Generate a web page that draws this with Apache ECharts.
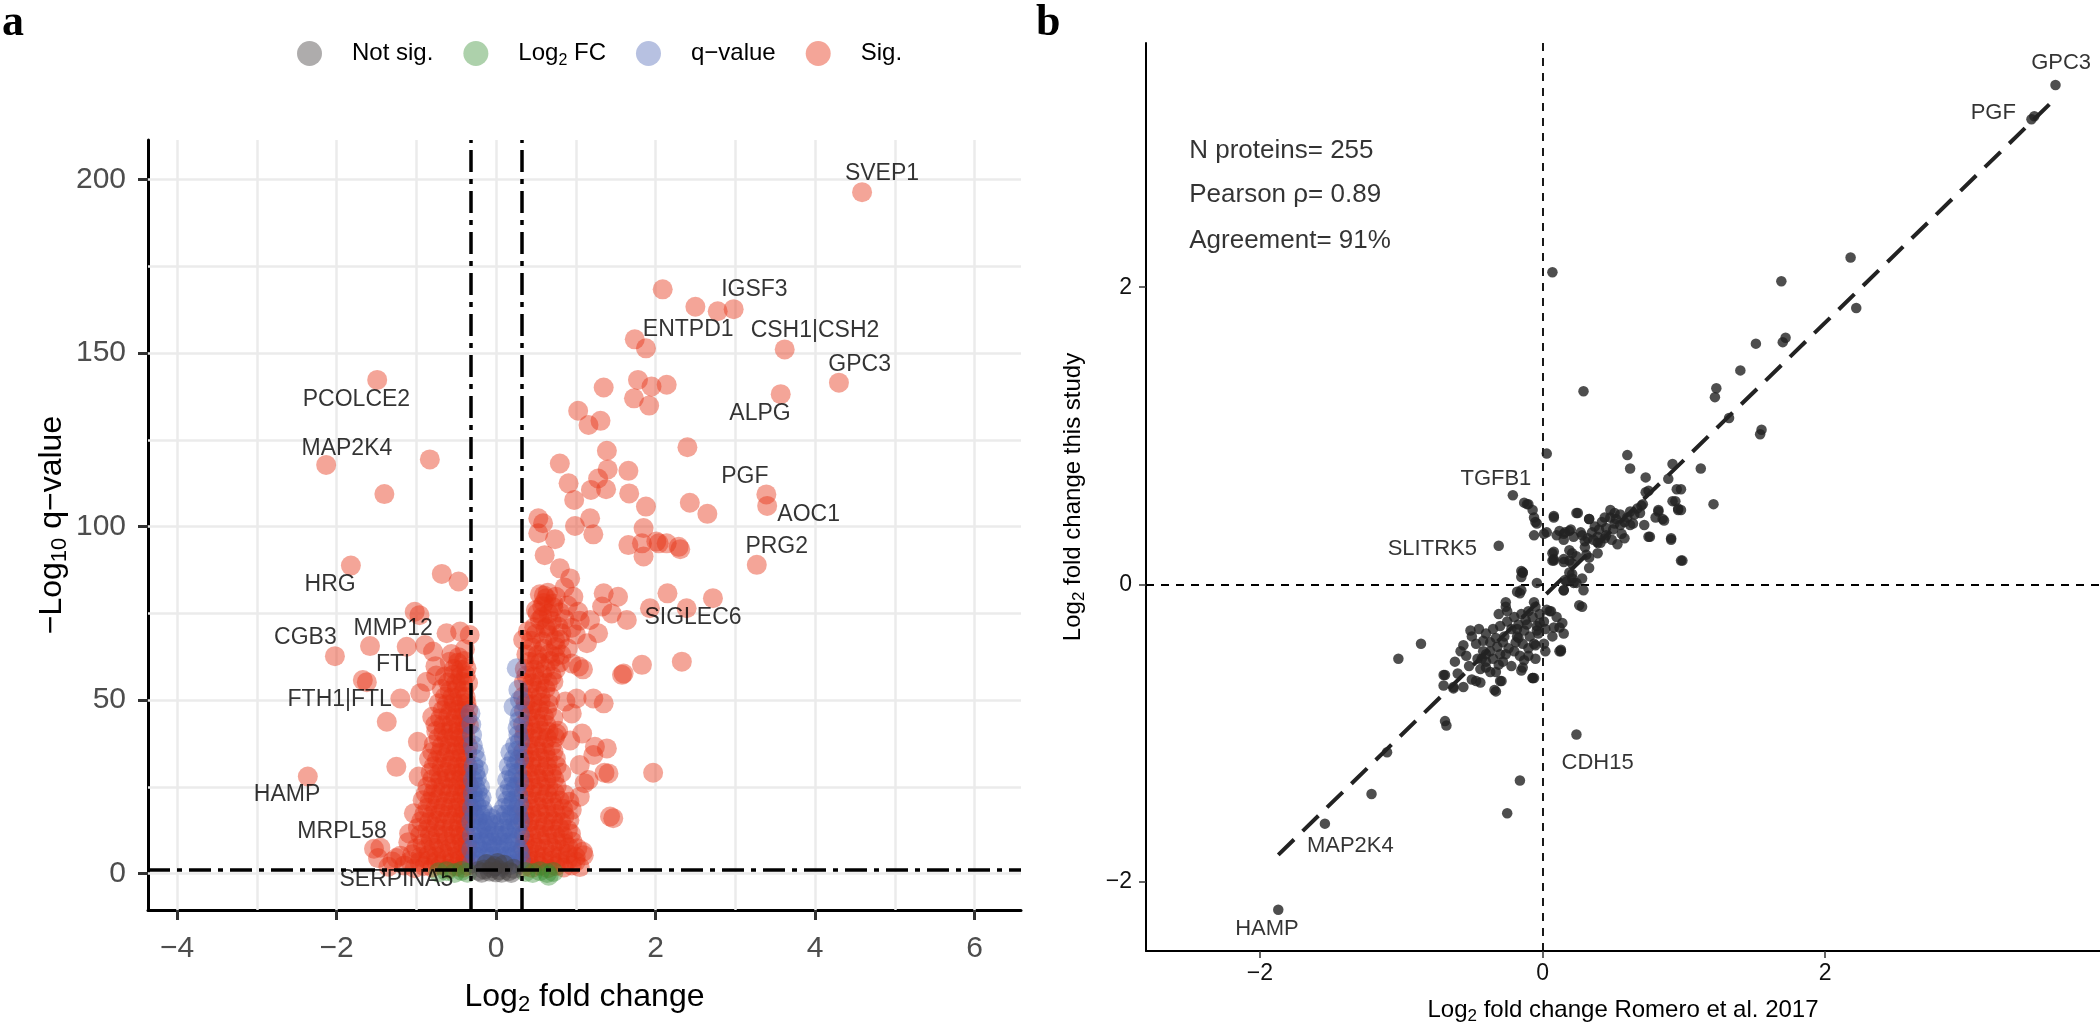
<!DOCTYPE html>
<html><head><meta charset="utf-8">
<script src="https://cdn.jsdelivr.net/npm/echarts@6/dist/echarts.min.js"></script>
<style>html,body{margin:0;padding:0;background:#fff}#c{width:2100px;height:1030px}</style>
</head><body><div id="c"></div>
<script>
// ---------- Panel a : volcano ----------
const volcanoXTicks = [-4, -2, 0, 2, 4, 6];
const volcanoYTicks = [0, 50, 100, 150, 200];
const volcanoXGrid = [-4, -3, -2, -1, 0, 1, 2, 3, 4, 5, 6];
const volcanoYGrid = [0, 25, 50, 75, 100, 125, 150, 175, 200];
const fcCutoffs = [-0.32, 0.32];
const qCutoff = 1;
const legendNames = ['Not sig.', 'Log2 FC', 'q\u2212value', 'Sig.'];

const notSig = [[-0.22,0.8],[-0.15,1.2],[-0.08,0.6],[-0.02,2.2],[0.04,1.0],[0.1,2.6],[0.16,0.7],[0.22,1.4],[-0.12,2.8],[0.0,0.4],[0.07,0.3],[-0.18,0.3],[0.19,0.2],[0.02,3.1],[-0.05,1.6]];
const log2fc = [[-0.72,0.4],[-0.62,0.7],[-0.52,0.2],[-0.43,0.8],[-0.36,0.3],[0.37,0.5],[0.46,0.2],[0.55,0.7],[0.64,0.2],[0.72,0.5],[0.66,-0.6]];
const qvalue = [
[-0.30,3],[-0.22,3.5],[-0.14,2.5],[-0.06,3],[-0.31,7],[-0.23,7.5],[-0.15,6.5],[-0.07,7],
[-0.30,11],[-0.22,11.5],[-0.15,10.5],[-0.31,15],[-0.23,15.5],[-0.16,14.5],[-0.30,19],[-0.24,19.5],[-0.17,18.5],
[-0.29,23],[-0.23,23.5],[-0.18,22],[-0.29,27],[-0.24,27.5],[-0.28,31],[-0.22,30],[-0.27,35],[-0.30,40],[-0.32,46.2],
[-0.09,11],[-0.10,15],[-0.04,5],[0.00,8],[-0.02,12],
[0.02,3],[0.10,3.5],[0.18,2.5],[0.26,3],[0.31,4],[0.04,7],[0.12,7.5],[0.20,6.5],[0.28,7],
[0.06,11],[0.14,11.5],[0.22,10.5],[0.30,11],[0.08,15],[0.16,15.5],[0.24,14.5],[0.30,15],
[0.10,19],[0.18,19.5],[0.26,18.5],[0.12,23],[0.20,23.5],[0.28,22.5],[0.14,27],[0.22,27.5],[0.29,26.5],
[0.16,31],[0.25,31.5],[0.18,35],[0.27,35.5],[0.28,40],[0.29,44],[0.22,48.1],[0.30,50],[0.26,59.2],
[-0.26,5],[-0.18,5],[-0.10,5],[-0.26,9],[-0.18,9],[-0.11,9],[-0.26,13],[-0.19,13],[-0.12,13],[-0.27,17],
[-0.20,17],[-0.13,17],[-0.27,21],[-0.20,21],[-0.26,25],[-0.20,25],[-0.26,29],[-0.25,33],[-0.29,37],[-0.31,43],
[-0.05,9],[-0.02,14],[0.02,11],[0.03,17],[-0.06,16],[0.06,5],[-0.02,2],
[0.06,2],[0.14,5],[0.22,5],[0.30,6],[0.08,9],[0.16,9],[0.24,9],[0.10,13],[0.18,13],[0.26,13],[0.12,17],
[0.20,17],[0.28,17],[0.14,21],[0.22,21],[0.29,20],[0.17,25],[0.25,25],[0.19,29],[0.27,29],[0.22,33],
[0.29,33],[0.24,37],[0.30,38],[0.27,42],[0.30,46],[0.28,53]
];
const sig = [
// upper right
[4.59,196.4],[2.09,168.4],[2.50,163.4],[2.78,162.1],[2.98,162.7],[1.74,154.0],[1.88,151.4],[3.62,151.1],[4.30,141.5],[3.57,138.2],
[1.35,140.1],[1.78,142.3],[1.95,140.4],[2.14,140.9],[1.73,137.0],[1.92,134.9],[1.03,133.4],[1.16,129.3],[1.31,130.5],[2.40,122.9],
[1.39,121.9],[1.66,116.1],[1.40,116.5],[1.28,113.9],[0.91,112.5],[1.19,110.6],[1.38,110.8],[0.80,118.2],[0.98,107.7],[1.67,109.6],
[1.88,105.8],[2.43,106.9],[2.65,103.7],[3.39,109.3],[3.40,106.0],[0.99,100.2],[1.22,97.8],[1.18,102.4],[1.85,99.6],[1.66,94.7],
[1.83,95.2],[2.04,95.2],[2.29,94.2],[3.27,89.0],[0.74,96.4],[0.59,101.0],[0.61,91.8],[0.53,102.4],[0.53,98.1],[2.01,95.7],
[2.14,95.2],[2.31,93.5],[1.85,91.4],[0.80,88.0],[0.93,85.1],[0.86,82.5],[0.97,79.8],[0.63,79.4],[0.72,77.9],[1.03,75.5],
[1.18,73.1],[1.28,69.3],[1.14,66.4],[1.35,80.8],[1.53,79.8],[1.33,77.0],[1.45,75.0],[1.64,73.1],[2.15,80.8],[2.72,79.4],
[2.39,76.5],[1.93,76.5],[2.33,61.1],[1.83,60.2],[1.58,57.3],[1.09,58.9],[0.72,55.3],[1.01,50.5],[1.22,50.5],[1.35,49.1],
[1.39,36.1],[1.22,34.2],[1.05,31.3],[1.41,28.9],[1.16,27.0],[1.97,29.1],[1.05,22.2],[1.47,16.0],[1.09,6.3],[0.76,40.4],[0.93,38.4],
[0.34,67.4],[0.40,69.9],[0.64,71.3],[0.80,67.4],[0.95,60.6],[0.51,61.7],[0.74,62.6],[1.04,59.7],[1.60,57.7],[0.87,49.6],
[0.95,46.2],[1.08,40.4],[1.24,36.6],[1.11,26.1],[0.95,18.4],[1.43,16.5],[1.36,29.1],[0.55,80.5],[0.60,78.0],[0.65,81.0],[0.50,76.0],[0.58,74.0],
// upper left
[-1.49,142.3],[-2.13,117.8],[-0.83,119.4],[-1.40,109.4],[-1.82,88.8],[-0.68,86.4],[-0.47,84.2],[-1.02,75.5],[-0.96,74.5],
[-2.02,62.7],[-1.58,65.6],[-1.67,55.8],[-1.62,55.2],[-1.20,50.5],[-1.37,43.8],[-0.98,38.0],[-1.25,30.8],[-0.97,28.0],[-2.36,28.0],
[-1.03,17.4],[-1.09,11.6],[-1.53,7.2],[-1.45,7.5],[-1.48,4.5],[-1.25,4.5],[-1.30,3.5],
[-1.12,65.4],[-0.89,65.9],[-0.79,64.0],[-0.62,69.3],[-0.45,69.8],[-0.33,68.8],[-0.56,63.3],[-0.39,64.7],[-0.47,62.4],
[-0.95,52.0],[-0.87,55.3],[-0.76,59.8],
// left dense mass
[-1.35,2],[-1.15,2.4],[-1.02,1.6],[-0.90,2.2],[-0.80,1.8],[-0.70,2.5],[-0.60,1.5],[-0.50,2.1],[-0.42,1.7],[-0.36,2.3],
[-1.20,5.2],[-1.05,5.6],[-0.95,4.8],[-0.85,5.4],[-0.75,5.0],[-0.65,5.7],[-0.55,4.9],[-0.46,5.3],[-0.38,5.1],
[-1.10,9.1],[-0.92,8.7],[-0.82,9.4],[-0.72,8.9],[-0.62,9.3],[-0.52,8.8],[-0.43,9.2],[-0.36,9.0],
[-0.98,13.2],[-0.86,12.8],[-0.76,13.4],[-0.66,12.9],[-0.56,13.1],[-0.47,12.7],[-0.39,13.3],
[-0.90,17.1],[-0.80,16.8],[-0.70,17.4],[-0.60,16.9],[-0.50,17.2],[-0.42,16.7],[-0.35,17.3],
[-0.92,21.2],[-0.83,20.8],[-0.73,21.4],[-0.63,20.9],[-0.54,21.1],[-0.45,20.7],[-0.37,21.3],
[-0.86,25.1],[-0.76,24.8],[-0.66,25.3],[-0.57,24.9],[-0.48,25.2],[-0.40,24.7],[-0.34,25.4],
[-0.82,29.2],[-0.72,28.7],[-0.62,29.3],[-0.53,28.9],[-0.44,29.1],[-0.37,28.8],
[-0.84,33.1],[-0.74,32.8],[-0.64,33.4],[-0.55,32.9],[-0.46,33.2],[-0.38,32.7],
[-0.78,37.2],[-0.68,36.8],[-0.58,37.3],[-0.49,36.9],[-0.41,37.1],[-0.35,36.7],
[-0.75,41.1],[-0.66,40.8],[-0.57,41.3],[-0.48,40.9],[-0.40,41.2],
[-0.80,45.2],[-0.70,44.8],[-0.60,45.3],[-0.51,44.9],[-0.43,45.1],[-0.36,44.7],
[-0.72,49.1],[-0.62,48.8],[-0.53,49.3],[-0.44,48.9],[-0.37,49.2],
[-0.68,53.2],[-0.58,52.8],[-0.49,53.3],[-0.40,52.9],
[-0.75,57.1],[-0.64,56.8],[-0.54,57.3],[-0.45,56.9],[-0.38,57.2],
[-0.58,61.1],[-0.48,60.8],[-0.40,61.3],
[-1.08,3.6],[-0.96,3.4],[-0.85,3.8],[-0.75,3.5],[-0.65,3.7],[-0.55,3.3],[-0.46,3.9],[-0.39,3.5],[-0.34,3.7],
[-1.00,7.3],[-0.88,7.1],[-0.78,7.5],[-0.68,7.2],[-0.58,7.4],[-0.49,7.0],[-0.41,7.6],[-0.35,7.3],
[-0.95,11.2],[-0.83,11.0],[-0.73,11.4],[-0.63,11.1],[-0.53,11.3],[-0.45,10.9],[-0.38,11.5],
[-0.94,15.1],[-0.84,14.9],[-0.74,15.3],[-0.64,15.0],[-0.55,15.2],[-0.46,14.8],[-0.38,15.4],
[-0.86,19.0],[-0.76,18.8],[-0.66,19.2],[-0.57,18.9],[-0.48,19.1],[-0.40,18.7],[-0.34,19.3],
[-0.88,23.1],[-0.79,22.9],[-0.69,23.3],[-0.59,23.0],[-0.50,23.2],[-0.42,22.8],[-0.36,23.4],
[-0.80,27.2],[-0.70,27.0],[-0.61,27.4],[-0.52,27.1],[-0.44,27.3],[-0.37,26.9],
[-0.78,31.0],[-0.68,30.8],[-0.58,31.2],[-0.49,30.9],[-0.41,31.1],[-0.35,30.7],
[-0.80,35.1],[-0.70,34.9],[-0.60,35.3],[-0.51,35.0],[-0.43,35.2],[-0.36,34.8],
[-0.72,39.2],[-0.62,39.0],[-0.53,39.4],[-0.45,39.1],[-0.38,39.3],
[-0.76,43.0],[-0.66,42.8],[-0.56,43.2],[-0.47,42.9],[-0.39,43.1],[-0.34,42.7],
[-0.67,47.1],[-0.57,46.9],[-0.48,47.3],[-0.40,47.0],[-0.35,47.2],
[-0.64,51.0],[-0.55,50.8],[-0.46,51.2],[-0.38,50.9],
[-0.60,55.1],[-0.50,54.9],[-0.42,55.3],[-0.35,55.0],
[-0.53,59.0],[-0.44,58.8],[-0.37,59.2],
// right dense mass
[0.36,2.1],[0.45,1.7],[0.55,2.3],[0.65,1.6],[0.75,2.2],[0.85,1.8],[0.95,2.4],[1.05,1.9],
[0.40,5.2],[0.50,5.6],[0.60,4.8],[0.70,5.4],[0.80,5.0],[0.90,5.7],[1.00,4.9],[1.10,5.3],
[0.36,9.1],[0.46,8.7],[0.56,9.4],[0.66,8.9],[0.76,9.3],[0.86,8.8],[0.96,9.2],
[0.40,13.2],[0.50,12.8],[0.60,13.4],[0.70,12.9],[0.80,13.1],[0.90,12.7],
[0.36,17.1],[0.45,16.8],[0.55,17.4],[0.65,16.9],[0.75,17.2],[0.86,16.7],
[0.40,21.2],[0.50,20.8],[0.60,21.4],[0.70,20.9],[0.80,21.1],[0.92,20.7],
[0.36,25.1],[0.46,24.8],[0.56,25.3],[0.66,24.9],[0.76,25.2],
[0.40,29.2],[0.50,28.7],[0.60,29.3],[0.70,28.9],[0.82,29.1],
[0.36,33.1],[0.45,32.8],[0.55,33.4],[0.65,32.9],[0.75,33.2],
[0.40,37.2],[0.50,36.8],[0.60,37.3],[0.70,36.9],
[0.36,41.1],[0.46,40.8],[0.56,41.3],[0.66,40.9],[0.78,41.2],
[0.40,45.2],[0.50,44.8],[0.60,45.3],[0.72,44.9],
[0.37,49.1],[0.46,48.8],[0.56,49.3],[0.66,48.9],
[0.42,53.2],[0.52,52.8],[0.62,53.3],
[0.38,57.1],[0.48,56.8],[0.58,57.3],[0.70,56.9],
[0.42,61.1],[0.55,60.8],[0.68,61.3],[0.80,60.9],
[0.45,65.2],[0.60,64.8],[0.75,65.3],[0.90,64.9],
[0.50,69.1],[0.66,68.8],[0.82,69.3],[1.00,68.9],
[0.55,73.2],[0.70,72.8],[0.86,73.3],[1.05,72.9],
[0.58,77.1],[0.72,76.8],[0.90,77.3],[0.60,80.2],[0.75,79.8],
[0.34,3.6],[0.41,3.4],[0.50,3.8],[0.60,3.5],[0.70,3.7],[0.80,3.3],[0.90,3.9],[1.00,3.5],
[0.34,7.3],[0.42,7.1],[0.51,7.5],[0.61,7.2],[0.71,7.4],[0.81,7.0],[0.91,7.6],[1.02,7.3],
[0.35,11.2],[0.44,11.0],[0.54,11.4],[0.64,11.1],[0.74,11.3],[0.84,10.9],[0.94,11.5],
[0.34,15.1],[0.42,14.9],[0.52,15.3],[0.62,15.0],[0.72,15.2],[0.82,14.8],[0.92,15.4],
[0.34,19.0],[0.43,18.8],[0.53,19.2],[0.63,18.9],[0.73,19.1],[0.84,18.7],
[0.35,23.1],[0.44,22.9],[0.54,23.3],[0.64,23.0],[0.74,23.2],[0.86,22.8],
[0.34,27.2],[0.43,27.0],[0.53,27.4],[0.63,27.1],[0.73,27.3],
[0.35,31.0],[0.44,30.8],[0.54,31.2],[0.64,30.9],[0.76,31.1],
[0.34,35.1],[0.42,34.9],[0.52,35.3],[0.62,35.0],[0.72,35.2],
[0.35,39.2],[0.44,39.0],[0.54,39.4],[0.64,39.1],[0.74,39.3],
[0.34,43.0],[0.43,42.8],[0.53,43.2],[0.63,42.9],
[0.35,47.1],[0.44,46.9],[0.54,47.3],[0.64,47.0],
[0.34,51.0],[0.45,50.8],[0.56,51.2],[0.68,50.9],
[0.35,55.1],[0.45,54.9],[0.55,55.3],[0.65,55.0],
[0.36,59.0],[0.48,58.8],[0.62,59.2],[0.75,58.9],
[0.38,63.2],[0.52,63.0],[0.67,63.4],[0.82,63.1],
[0.44,67.1],[0.58,66.9],[0.74,67.3],
[0.48,71.0],[0.62,70.8],[0.78,71.2],[0.95,70.9],
[0.52,75.1],[0.66,74.9],[0.80,75.3]
];
const volcanoLabels = [
[4.84,201.8,'SVEP1'],[3.24,168.2,'IGSF3'],[2.41,156.7,'ENTPD1'],[4.00,156.4,'CSH1|CSH2'],[4.56,146.6,'GPC3'],
[3.31,132.7,'ALPG'],[3.12,114.4,'PGF'],[3.92,103.4,'AOC1'],[3.52,94.2,'PRG2'],[2.47,73.9,'SIGLEC6'],
[-1.75,136.7,'PCOLCE2'],[-1.87,122.6,'MAP2K4'],[-2.08,83.2,'HRG'],[-2.39,68.0,'CGB3'],[-1.29,70.7,'MMP12'],
[-1.25,60.1,'FTL'],[-1.96,50.1,'FTH1|FTL'],[-2.62,22.7,'HAMP'],[-1.93,12.1,'MRPL58'],[-1.25,-1.8,'SERPINA5']
];

// ---------- Panel b : comparison ----------
const cmpTicks = [-2, 0, 2];
const cmpRefLines = [0];
const cmpPoints = [
[3.63,3.36],[3.48,3.15],[3.46,3.13],
[2.18,2.20],[1.69,2.04],[0.07,2.10],[2.22,1.86],[1.72,1.66],[1.70,1.63],[1.51,1.62],[1.40,1.44],[1.23,1.32],[1.22,1.26],[0.29,1.30],[1.32,1.12],[1.55,1.04],[1.54,1.01],
[0.03,0.88],[0.60,0.87],[0.62,0.78],[0.92,0.81],[0.89,0.71],[1.12,0.78],[0.73,0.72],[0.95,0.64],[0.92,0.56],[0.75,0.63],[1.21,0.54],[0.96,0.50],[0.82,0.50],
[0.99,0.16],[0.91,0.30],[0.98,0.50],[0.94,0.56],[0.98,0.64],[0.86,0.43],[0.82,0.49],[0.76,0.32],[0.73,0.62],
[-0.21,0.60],[-0.13,0.55],[-0.10,0.54],[-0.07,0.50],[-0.05,0.42],[0.08,0.46],[0.24,0.48],[0.03,0.35],[0.12,0.36],[0.19,0.36],
[0.33,0.44],[0.44,0.45],[0.51,0.48],[0.62,0.49],[0.69,0.48],[0.71,0.54],[0.80,0.45],[0.85,0.44],[0.96,0.51],[0.91,0.31],
[0.75,0.32],[0.98,0.16],[0.58,0.31],[0.49,0.30],[0.39,0.28],[0.30,0.29],[0.21,0.21],[0.19,0.16],[0.08,0.22],[0.08,0.16],[0.33,0.11],[0.28,0.04],[0.21,0.04],
[-0.31,0.26],
[0.70,0.53],[0.67,0.51],[0.65,0.47],[0.72,0.40],[0.64,0.41],[0.56,0.34],[0.51,0.41],[0.48,0.45],[0.52,0.44],[0.58,0.42],
[0.53,0.27],[0.41,0.28],[0.44,0.31],[0.39,0.32],[0.37,0.39],[0.33,0.44],[0.25,0.48],[0.20,0.37],[0.15,0.34],[0.10,0.33],
[0.16,0.35],[0.27,0.35],[0.32,0.31],[0.39,0.21],[0.33,0.18],[0.31,0.20],[0.24,0.19],[0.19,0.23],[0.21,0.14],[0.15,0.17],
[0.07,0.21],[0.08,0.17],[0.19,0.08],[0.16,0.03],[0.22,0.01],[0.15,-0.04],[0.29,-0.04],[0.26,-0.14],[-0.04,0.01],[0.01,0.34],
[-0.06,0.33],[-0.06,0.45],[-0.11,0.54],[-0.04,0.41],[0.08,0.45],[-0.14,0.08],
[-0.16,-0.06],[-0.06,-0.12],[0.05,-0.18],[0.13,-0.44],[-0.07,-0.63],[0.01,-0.40],
[0.24,-1.01],[-0.16,-1.32],[-0.25,-1.54],[-1.21,-1.41],[-1.10,-1.13],[-0.69,-0.92],[-0.68,-0.95],[-0.86,-0.40],[-1.02,-0.50],
[-1.54,-1.61],[-1.87,-2.19],
[-0.70,-0.61],[-0.70,-0.68],[-0.63,-0.70],[-0.56,-0.69],[-0.34,-0.71],[-0.29,-0.65],[-0.44,-0.66],[-0.50,-0.64],[-0.44,-0.57],[-0.37,-0.59],
[-0.31,-0.54],[-0.14,-0.56],[-0.07,-0.63],[-0.10,-0.48],[-0.16,-0.48],[-0.05,-0.41],[-0.11,-0.27],[-0.18,-0.05],[-0.14,0.08],[-0.26,-0.15],
[-0.25,-0.18],[-0.31,-0.20],[-0.51,-0.31],[-0.56,-0.41],[-0.54,-0.48],[-0.42,-0.45],[-0.37,-0.39],[-0.28,-0.39],[-0.18,-0.35],[-0.13,-0.31],
[-0.04,-0.28],[0.01,-0.25],[0.06,-0.18],[0.08,-0.29],[0.14,-0.26],[0.15,-0.33],[0.13,-0.45],[0.07,-0.35],[0.15,-0.04],[0.17,0.02],
[0.24,0.01],[0.07,0.16],[0.15,0.15],
[-0.69,-0.61],[-0.63,-0.69],[-0.47,-0.65],[-0.33,-0.72],[-0.30,-0.65],[-0.33,-0.59],[-0.40,-0.56],[-0.43,-0.50],[-0.40,-0.47],[-0.26,-0.47],
[-0.15,-0.58],[-0.13,-0.51],[-0.06,-0.63],[-0.10,-0.43],[-0.19,-0.39],[-0.17,-0.36],[-0.06,-0.40],[-0.04,-0.31],[-0.02,-0.26],[0.03,-0.17],
[0.10,-0.22],[0.12,-0.29],[0.12,-0.45],[-0.26,-0.12],[-0.15,-0.04],[-0.15,0.09],[-0.15,0.05],[0.21,0.07],[0.28,-0.15],
[-0.50,-0.35],[-0.45,-0.30],[-0.40,-0.33],[-0.35,-0.30],[-0.30,-0.28],[-0.25,-0.25],[-0.20,-0.22],[-0.15,-0.20],[-0.10,-0.18],[-0.05,-0.15],
[-0.47,-0.40],[-0.42,-0.38],[-0.37,-0.45],[-0.32,-0.42],[-0.27,-0.35],[-0.22,-0.30],[-0.17,-0.27],[-0.12,-0.24],[-0.07,-0.22],[-0.02,-0.20],
[-0.46,-0.50],[-0.40,-0.52],[-0.35,-0.50],[-0.30,-0.47],[-0.24,-0.43],[-0.20,-0.45],[-0.14,-0.40],[-0.09,-0.35],[-0.03,-0.33],[0.02,-0.30],
[-0.52,-0.55],[-0.58,-0.45],[-0.62,-0.52],[-0.60,-0.60],[-0.28,-0.52],[-0.22,-0.55],[-0.05,-0.50],[0.02,-0.45],[-0.33,-0.36],[-0.18,-0.30],
[0.15,0.30],[0.22,0.32],[0.28,0.33],[0.35,0.35],[0.40,0.37],[0.45,0.38],[0.50,0.37],[0.55,0.40],[0.60,0.45],[0.62,0.40],
[0.45,0.33],[0.36,0.30],[0.30,0.25],[0.42,0.42],[0.55,0.47],[0.48,0.50]
];
const cmpFit = [[-1.87,-1.82],[3.63,3.27]];
const cmpLabels = [[3.67,3.51,'GPC3'],[3.19,3.17,'PGF'],[-0.33,0.71,'TGFB1'],[-0.78,0.24,'SLITRK5'],[0.39,-1.20,'CDH15'],[-1.36,-1.76,'MAP2K4'],[-1.95,-2.32,'HAMP']];
const statsText = [[-2.50,2.92,'N proteins= 255'],[-2.50,2.62,'Pearson \u03c1= 0.89'],[-2.50,2.31,'Agreement= 91%']];

// ---------- chart ----------
const FONT = '"Liberation Sans", Arial, Helvetica, sans-serif';
const chart = echarts.init(document.getElementById('c'), null, {renderer: 'canvas'});
const subRich = (size, subSize, color) => ({
  t: {fontSize: size, lineHeight: size + 6, color: color, fontFamily: FONT},
  s: {fontSize: subSize, lineHeight: subSize, verticalAlign: 'bottom', color: color, fontFamily: FONT}
});
const gridLineData = volcanoXGrid.map(v => ({xAxis: v})).concat(volcanoYGrid.map(v => ({yAxis: v})));
const threshData = fcCutoffs.map(v => ({xAxis: v})).concat([{yAxis: qCutoff}]);
const refData = cmpRefLines.map(v => ({xAxis: v})).concat(cmpRefLines.map(v => ({yAxis: v})));
const labelSeries = (data, xi, size, align) => ({
  type: 'scatter', xAxisIndex: xi, yAxisIndex: xi, data: data, symbolSize: 1, z: 8, silent: true,
  itemStyle: {color: 'rgba(0,0,0,0)'},
  label: {show: true, position: 'inside', align: align || 'center', formatter: p => p.data[2], fontSize: size, color: '#000', fontFamily: FONT}
});

const option = {
  animation: false,
  backgroundColor: '#fff',
  textStyle: {fontFamily: FONT},
  graphic: [
    {type: 'text', left: 2, top: 2, style: {text: 'a', font: 'bold 44px "Liberation Serif", "DejaVu Serif", serif', fill: '#000'}},
    {type: 'text', left: 1036, top: 2, style: {text: 'b', font: 'bold 44px "Liberation Serif", "DejaVu Serif", serif', fill: '#000'}}
  ],
  legend: {
    data: legendNames, left: 292, top: 36, itemWidth: 25, itemHeight: 25, itemGap: 30, icon: 'circle',
    textStyle: {fontSize: 24, color: '#000', padding: [0, 0, 0, 25], rich: subRich(24, 16, '#000')},
    formatter: n => n === 'Log2 FC' ? '{t|Log}{s|2}{t| FC}' : n
  },
  grid: [
    {left: 148, top: 140, width: 873, height: 770},
    {left: 1146, top: 43, width: 954, height: 914}
  ],
  xAxis: [
    {type: 'value', gridIndex: 0, min: -4.364, max: 6.583,
     axisLine: {show: true, onZero: false, lineStyle: {color: '#000', width: 3}},
     axisTick: {show: true, length: 10, customValues: volcanoXTicks, lineStyle: {color: '#333', width: 3}},
     axisLabel: {customValues: volcanoXTicks, fontSize: 30, color: '#4d4d4d', margin: 24, formatter: v => String(v).replace('-', '\u2212')},
     splitLine: {show: false},
     name: '{t|Log}{s|2}{t| fold change}', nameLocation: 'middle', nameGap: 68,
     nameTextStyle: {rich: subRich(32, 22, '#000')}},
    {type: 'value', gridIndex: 1, min: -2.806, max: 3.945,
     axisLine: {show: true, onZero: false, lineStyle: {color: '#000', width: 2}},
     axisTick: {show: true, length: 7, customValues: cmpTicks, lineStyle: {color: '#333', width: 1.5}},
     axisLabel: {customValues: cmpTicks, fontSize: 23, color: '#111', margin: 11, formatter: v => String(v).replace('-', '\u2212')},
     splitLine: {show: false},
     name: '{t|Log}{s|2}{t| fold change Romero et al. 2017}', nameLocation: 'middle', nameGap: 44,
     nameTextStyle: {rich: subRich(24, 17, '#000')}}
  ],
  yAxis: [
    {type: 'value', gridIndex: 0, min: -10.46, max: 211.44,
     axisLine: {show: true, onZero: false, lineStyle: {color: '#000', width: 3}},
     axisTick: {show: true, length: 10, customValues: volcanoYTicks, lineStyle: {color: '#333', width: 3}},
     axisLabel: {customValues: volcanoYTicks, fontSize: 30, color: '#4d4d4d', margin: 22},
     splitLine: {show: false},
     name: '{t|\u2212Log}{s|10}{t| q\u2212value}', nameLocation: 'middle', nameGap: 77,
     nameTextStyle: {rich: subRich(32, 22, '#000')}},
    {type: 'value', gridIndex: 1, min: -2.467, max: 3.643,
     axisLine: {show: true, onZero: false, lineStyle: {color: '#000', width: 2}},
     axisTick: {show: true, length: 7, customValues: cmpTicks, lineStyle: {color: '#333', width: 1.5}},
     axisLabel: {customValues: cmpTicks, fontSize: 23, color: '#111', margin: 14, formatter: v => String(v).replace('-', '\u2212')},
     splitLine: {show: false},
     name: '{t|Log}{s|2}{t| fold change this study}', nameLocation: 'middle', nameGap: 58,
     nameTextStyle: {rich: subRich(24, 17, '#000')}}
  ],
  series: [
    {type: 'scatter', xAxisIndex: 0, yAxisIndex: 0, data: [], z: 1, silent: true,
     markLine: {silent: true, z: 1, symbol: ['none', 'none'], label: {show: false}, animation: false,
       lineStyle: {color: '#ebebeb', width: 2.5, type: 'solid'}, emphasis: {disabled: true}, data: gridLineData}},
    {name: 'Sig.', type: 'scatter', xAxisIndex: 0, yAxisIndex: 0, data: sig, symbolSize: 20, z: 2,
     itemStyle: {color: 'rgba(230,50,20,0.55)'}},
    {name: 'q\u2212value', type: 'scatter', xAxisIndex: 0, yAxisIndex: 0, data: qvalue, symbolSize: 20, z: 2,
     itemStyle: {color: 'rgba(75,100,180,0.5)'}},
    {name: 'Log2 FC', type: 'scatter', xAxisIndex: 0, yAxisIndex: 0, data: log2fc, symbolSize: 20, z: 2,
     itemStyle: {color: 'rgba(50,140,45,0.5)'}},
    {name: 'Not sig.', type: 'scatter', xAxisIndex: 0, yAxisIndex: 0, data: notSig, symbolSize: 20, z: 2,
     itemStyle: {color: 'rgba(70,66,66,0.55)'}},
    {type: 'scatter', xAxisIndex: 0, yAxisIndex: 0, data: [], z: 5, silent: true,
     markLine: {silent: true, z: 5, symbol: ['none', 'none'], label: {show: false}, animation: false,
       lineStyle: {color: '#000', width: 3.5, type: [22, 7, 5, 7]}, emphasis: {disabled: true}, data: threshData}},
    labelSeries(volcanoLabels, 0, 23),
    {type: 'scatter', xAxisIndex: 1, yAxisIndex: 1, data: [], z: 1, silent: true,
     markLine: {silent: true, z: 1, symbol: ['none', 'none'], label: {show: false}, animation: false,
       lineStyle: {color: '#000', width: 1.8, type: [8, 7]}, emphasis: {disabled: true}, data: refData}},
    {type: 'scatter', xAxisIndex: 1, yAxisIndex: 1, data: cmpPoints, symbolSize: 10.5, z: 3,
     itemStyle: {color: '#222'}},
    {type: 'line', xAxisIndex: 1, yAxisIndex: 1, data: cmpFit, symbol: 'none', z: 4, silent: true,
     lineStyle: {color: '#222', width: 4, type: [22, 12]}},
    labelSeries(cmpLabels, 1, 22),
    labelSeries(statsText, 1, 26, 'left')
  ]
};
chart.setOption(option);
</script></body></html>
